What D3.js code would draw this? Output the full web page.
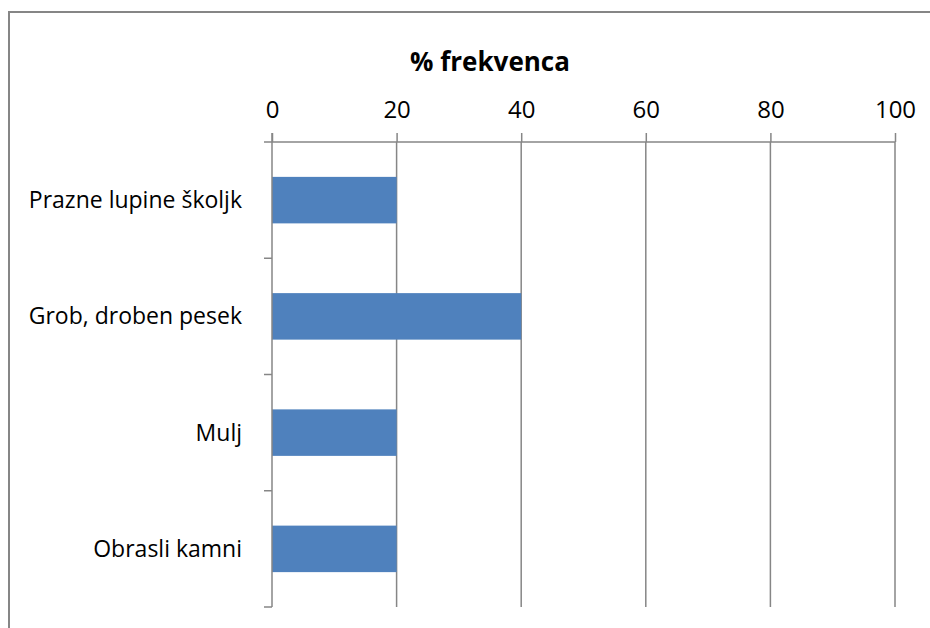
<!DOCTYPE html>
<html>
<head>
<meta charset="utf-8">
<script src="https://cdn.jsdelivr.net/npm/d3@7"></script>
<style>
	body { margin: 0; background: #fff; }
	text { font-family: "Open Sans", sans-serif; fill: #000; }
</style>
</head>
<body>
<div id="chart-area"></div>
<script>

// chart data
let categories = ["Prazne lupine školjk", "Grob, droben pesek", "Mulj", "Obrasli kamni"];
let values = [20, 40, 20, 20];
let xTicks = [0, 20, 40, 60, 80, 100];
let chartTitle = "% frekvenca";

let margin = {top: 142, right: 35, bottom: 21, left: 272};

let width = 930 - margin.left - margin.right;
let height = 628 - margin.top - margin.bottom;

let root = d3.select("#chart-area").append("svg")
	.attr("width", 930)
	.attr("height", 628);

// chart area frame (runs past the picture on the right and bottom)
root.append("rect")
	.attr("x", 9)
	.attr("y", 12)
	.attr("width", 1000)
	.attr("height", 1000)
	.attr("fill", "none")
	.attr("stroke", "#868686")
	.attr("stroke-width", 2);

let svg = root.append("g")
	.attr("transform", "translate(" + margin.left + "," + margin.top + ")");

// scales
let x = d3.scaleLinear()
	.domain([0, 100])
	.range([0, width]);

let y = d3.scaleBand()
	.domain(categories)
	.range([0, height])
	.paddingInner(0.6)
	.paddingOuter(0.3);

// vertical gridlines
svg.selectAll(".grid")
	.data(xTicks.slice(1))
	.enter()
	.append("line")
	.attr("class", "grid")
	.attr("x1", d => x(d))
	.attr("x2", d => x(d))
	.attr("y1", 0)
	.attr("y2", height)
	.attr("stroke", "#868686")
	.attr("stroke-width", 1.5);

// bars
svg.selectAll(".bar")
	.data(values)
	.enter()
	.append("rect")
	.attr("class", "bar")
	.attr("x", x(0))
	.attr("y", (d, i) => y(categories[i]))
	.attr("width", d => x(d) - x(0))
	.attr("height", y.bandwidth())
	.attr("fill", "#4F81BD");

// top axis
let xAxis = svg.append("g")
	.attr("class", "x-axis axis")
	.call(d3.axisTop(x).tickValues(xTicks).tickSize(9).tickSizeOuter(0).tickPadding(15));

xAxis.select(".domain").remove();
xAxis.append("line")
	.attr("x1", -8)
	.attr("x2", width)
	.attr("stroke", "#868686")
	.attr("stroke-width", 1.5);
xAxis.selectAll(".tick line").attr("stroke", "#868686").attr("stroke-width", 1.5);
xAxis.selectAll(".tick text")
	.attr("font-size", 24)
	.style("font-family", "'Open Sans', sans-serif")
	.attr("fill", "#000");

// left axis: category boundary ticks
let bounds = d3.range(categories.length + 1).map(i => i * y.step());

svg.append("line")
	.attr("x1", 0)
	.attr("x2", 0)
	.attr("y1", -9)
	.attr("y2", height)
	.attr("stroke", "#868686")
	.attr("stroke-width", 1.5);

svg.selectAll(".ytick")
	.data(bounds.slice(1))
	.enter()
	.append("line")
	.attr("class", "ytick")
	.attr("x1", -8)
	.attr("x2", 0)
	.attr("y1", d => d)
	.attr("y2", d => d)
	.attr("stroke", "#868686")
	.attr("stroke-width", 1.5);

svg.selectAll(".ylabel")
	.data(categories)
	.enter()
	.append("text")
	.attr("class", "ylabel")
	.attr("x", -30)
	.attr("y", d => y(d) + y.bandwidth() / 2)
	.attr("dy", "0.35em")
	.attr("text-anchor", "end")
	.attr("font-size", 23)
	.text(d => d);

// title
root.append("text")
	.attr("x", 490)
	.attr("y", 71)
	.attr("text-anchor", "middle")
	.attr("font-size", 26)
	.attr("font-weight", "bold")
	.text(chartTitle);

</script>
</body>
</html>
